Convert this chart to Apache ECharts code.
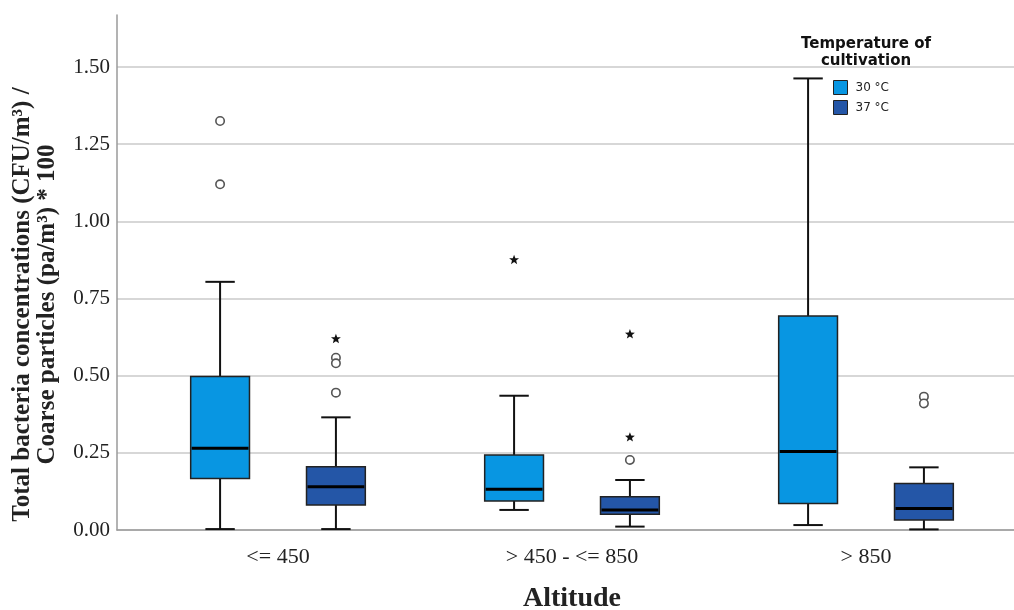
<!DOCTYPE html>
<html>
<head>
<meta charset="utf-8">
<script src="https://cdn.jsdelivr.net/npm/echarts@6/dist/echarts.min.js"></script>
<style>html,body{margin:0;padding:0;background:#fff}#c{width:1014px;height:610px}</style>
</head>
<body>
<div id="c"></div>
<script>
// ---- data ----
const categories = ['<= 450', '> 450 - <= 850', '> 850'];
const seriesNames = ['30 °C', '37 °C'];
// [min, Q1, median, Q3, max] per altitude class
const box30 = [
  [0.003, 0.167, 0.265, 0.497, 0.804],
  [0.065, 0.094, 0.132, 0.243, 0.435],
  [0.016, 0.086, 0.254, 0.693, 1.463]
];
const box37 = [
  [0.003, 0.081, 0.140, 0.205, 0.365],
  [0.011, 0.051, 0.065, 0.108, 0.162],
  [0.002, 0.032, 0.070, 0.151, 0.203]
];
// outliers: [category index, value]
const circles30 = [[0, 1.325], [0, 1.120]];
const stars30 = [[1, 0.875]];
const circles37 = [[0, 0.558], [0, 0.540], [0, 0.445], [1, 0.227], [2, 0.432], [2, 0.410]];
const stars37 = [[0, 0.619], [1, 0.634], [1, 0.300]];
const yTicks = [0, 0.25, 0.5, 0.75, 1.0, 1.25, 1.5];

// ---- style ----
const colors = ['#0896E2', '#2456A7'];
const DODGE = [-0.197, 0.197];
const BOX_FRAC = 0.2;
const CAP_FRAC = 0.1;

function boxRenderer(dodge, color) {
  return function (params, api) {
    const i = api.value(0);
    const band = api.size([1, 0])[0];
    const cx = api.coord([i, 0])[0] + dodge * band;
    const w = BOX_FRAC * band, cap = CAP_FRAC * band;
    const y = k => api.coord([i, api.value(k)])[1];
    const yMin = y(1), yQ1 = y(2), yMed = y(3), yQ3 = y(4), yMax = y(5);
    const ls = { stroke: '#111', lineWidth: 2 };
    return {
      type: 'group',
      children: [
        { type: 'line', shape: { x1: cx, y1: yQ3, x2: cx, y2: yMax }, style: ls },
        { type: 'line', shape: { x1: cx, y1: yQ1, x2: cx, y2: yMin }, style: ls },
        { type: 'line', shape: { x1: cx - cap / 2, y1: yMax, x2: cx + cap / 2, y2: yMax }, style: ls },
        { type: 'line', shape: { x1: cx - cap / 2, y1: yMin, x2: cx + cap / 2, y2: yMin }, style: ls },
        { type: 'rect', shape: { x: cx - w / 2, y: yQ3, width: w, height: yQ1 - yQ3 },
          style: { fill: color, stroke: '#222', lineWidth: 1.5 } },
        { type: 'line', shape: { x1: cx - w / 2 + 1, y1: yMed, x2: cx + w / 2 - 1, y2: yMed },
          style: { stroke: '#000', lineWidth: 3 } }
      ]
    };
  };
}
function circleRenderer(dodge) {
  return function (params, api) {
    const band = api.size([1, 0])[0];
    const p = api.coord([api.value(0), api.value(1)]);
    return { type: 'circle', shape: { cx: p[0] + dodge * band, cy: p[1], r: 4.2 },
      style: { fill: '#fff', stroke: '#555', lineWidth: 1.6 } };
  };
}
function starRenderer(dodge) {
  return function (params, api) {
    const band = api.size([1, 0])[0];
    const p = api.coord([api.value(0), api.value(1)]);
    const cx = p[0] + dodge * band, cy = p[1];
    const pts = [];
    for (let k = 0; k < 10; k++) {
      const r = k % 2 === 0 ? 5.2 : 2.2;
      const a = -Math.PI / 2 + k * Math.PI / 5;
      pts.push([cx + r * Math.cos(a), cy + r * Math.sin(a)]);
    }
    return { type: 'polygon', shape: { points: pts }, style: { fill: '#111' } };
  };
}

const serif = 'Liberation Serif';
const chart = echarts.init(document.getElementById('c'));
chart.setOption({
  animation: false,
  backgroundColor: '#fff',
  grid: [
    { left: 117, right: 0, top: 67, bottom: 80, containLabel: false, outerBoundsMode: 'none' },
    { left: 131, right: 1, top: 15, bottom: 80, containLabel: false, outerBoundsMode: 'none' }
  ],
  graphic: [{
    type: 'text', x: 866, y: 36,
    style: { text: 'Temperature of\ncultivation', textAlign: 'center',
      font: 'bold 15px "DejaVu Sans"', lineHeight: 17, fill: '#111' }
  }],
  legend: {
    data: seriesNames, orient: 'vertical', left: 833, top: 80,
    itemWidth: 14, itemHeight: 14, itemGap: 5, padding: 0, icon: 'rect',
    textStyle: { fontFamily: 'DejaVu Sans', fontSize: 12, color: '#222', padding: [0, 0, 0, 3] },
    itemStyle: { borderColor: '#222', borderWidth: 1 }
  },
  xAxis: [
    { gridIndex: 0, type: 'value', min: 0, max: 1, offset: 2,
      axisLine: { show: true, lineStyle: { color: '#9a9a9a', width: 1.5 } },
      axisTick: { show: false }, axisLabel: { show: false }, splitLine: { show: false } },
    { gridIndex: 1, type: 'category', data: categories,
      axisLine: { show: false }, axisTick: { show: false },
      axisLabel: { fontFamily: serif, fontSize: 22, color: '#222', margin: 16 },
      name: 'Altitude', nameLocation: 'middle', nameGap: 55,
      nameTextStyle: { fontFamily: serif, fontWeight: 'bold', fontSize: 28, color: '#222' } }
  ],
  yAxis: [
    { gridIndex: 0, type: 'value', min: 0, max: 1.5, interval: 0.25,
      axisLine: { show: false }, axisTick: { show: false },
      axisLabel: { fontFamily: serif, fontSize: 21, color: '#222', margin: 7,
        formatter: v => yTicks.includes(v) ? v.toFixed(2) : '' },
      splitLine: { show: true, lineStyle: { color: '#cacaca', width: 1.5 } },
      name: 'Total bacteria concentrations (CFU/m³) /\nCoarse particles (pa/m³) * 100',
      nameLocation: 'middle', nameGap: 57, nameRotate: 90,
      nameTextStyle: { fontFamily: serif, fontWeight: 'bold', fontSize: 25, lineHeight: 25,
        color: '#222', align: 'center', padding: [0, 12, 0, 0] } },
    { gridIndex: 1, type: 'value', min: 0, max: 1.6685, offset: 14,
      axisLine: { show: true, lineStyle: { color: '#9a9a9a', width: 1.5 } },
      axisTick: { show: false }, axisLabel: { show: false }, splitLine: { show: false } }
  ],
  series: [
    { name: seriesNames[0], type: 'custom', xAxisIndex: 1, yAxisIndex: 1,
      itemStyle: { color: colors[0], borderColor: '#222', borderWidth: 1 },
      renderItem: boxRenderer(DODGE[0], colors[0]),
      encode: { x: 0, y: [1, 2, 3, 4, 5] },
      data: box30.map((b, i) => [i, ...b]) },
    { name: seriesNames[1], type: 'custom', xAxisIndex: 1, yAxisIndex: 1,
      itemStyle: { color: colors[1], borderColor: '#222', borderWidth: 1 },
      renderItem: boxRenderer(DODGE[1], colors[1]),
      encode: { x: 0, y: [1, 2, 3, 4, 5] },
      data: box37.map((b, i) => [i, ...b]) },
    { name: 'o30', type: 'custom', xAxisIndex: 1, yAxisIndex: 1,
      renderItem: circleRenderer(DODGE[0]), encode: { x: 0, y: 1 }, data: circles30 },
    { name: 's30', type: 'custom', xAxisIndex: 1, yAxisIndex: 1,
      renderItem: starRenderer(DODGE[0]), encode: { x: 0, y: 1 }, data: stars30 },
    { name: 'o37', type: 'custom', xAxisIndex: 1, yAxisIndex: 1,
      renderItem: circleRenderer(DODGE[1]), encode: { x: 0, y: 1 }, data: circles37 },
    { name: 's37', type: 'custom', xAxisIndex: 1, yAxisIndex: 1,
      renderItem: starRenderer(DODGE[1]), encode: { x: 0, y: 1 }, data: stars37 }
  ]
});
</script>
</body>
</html>
